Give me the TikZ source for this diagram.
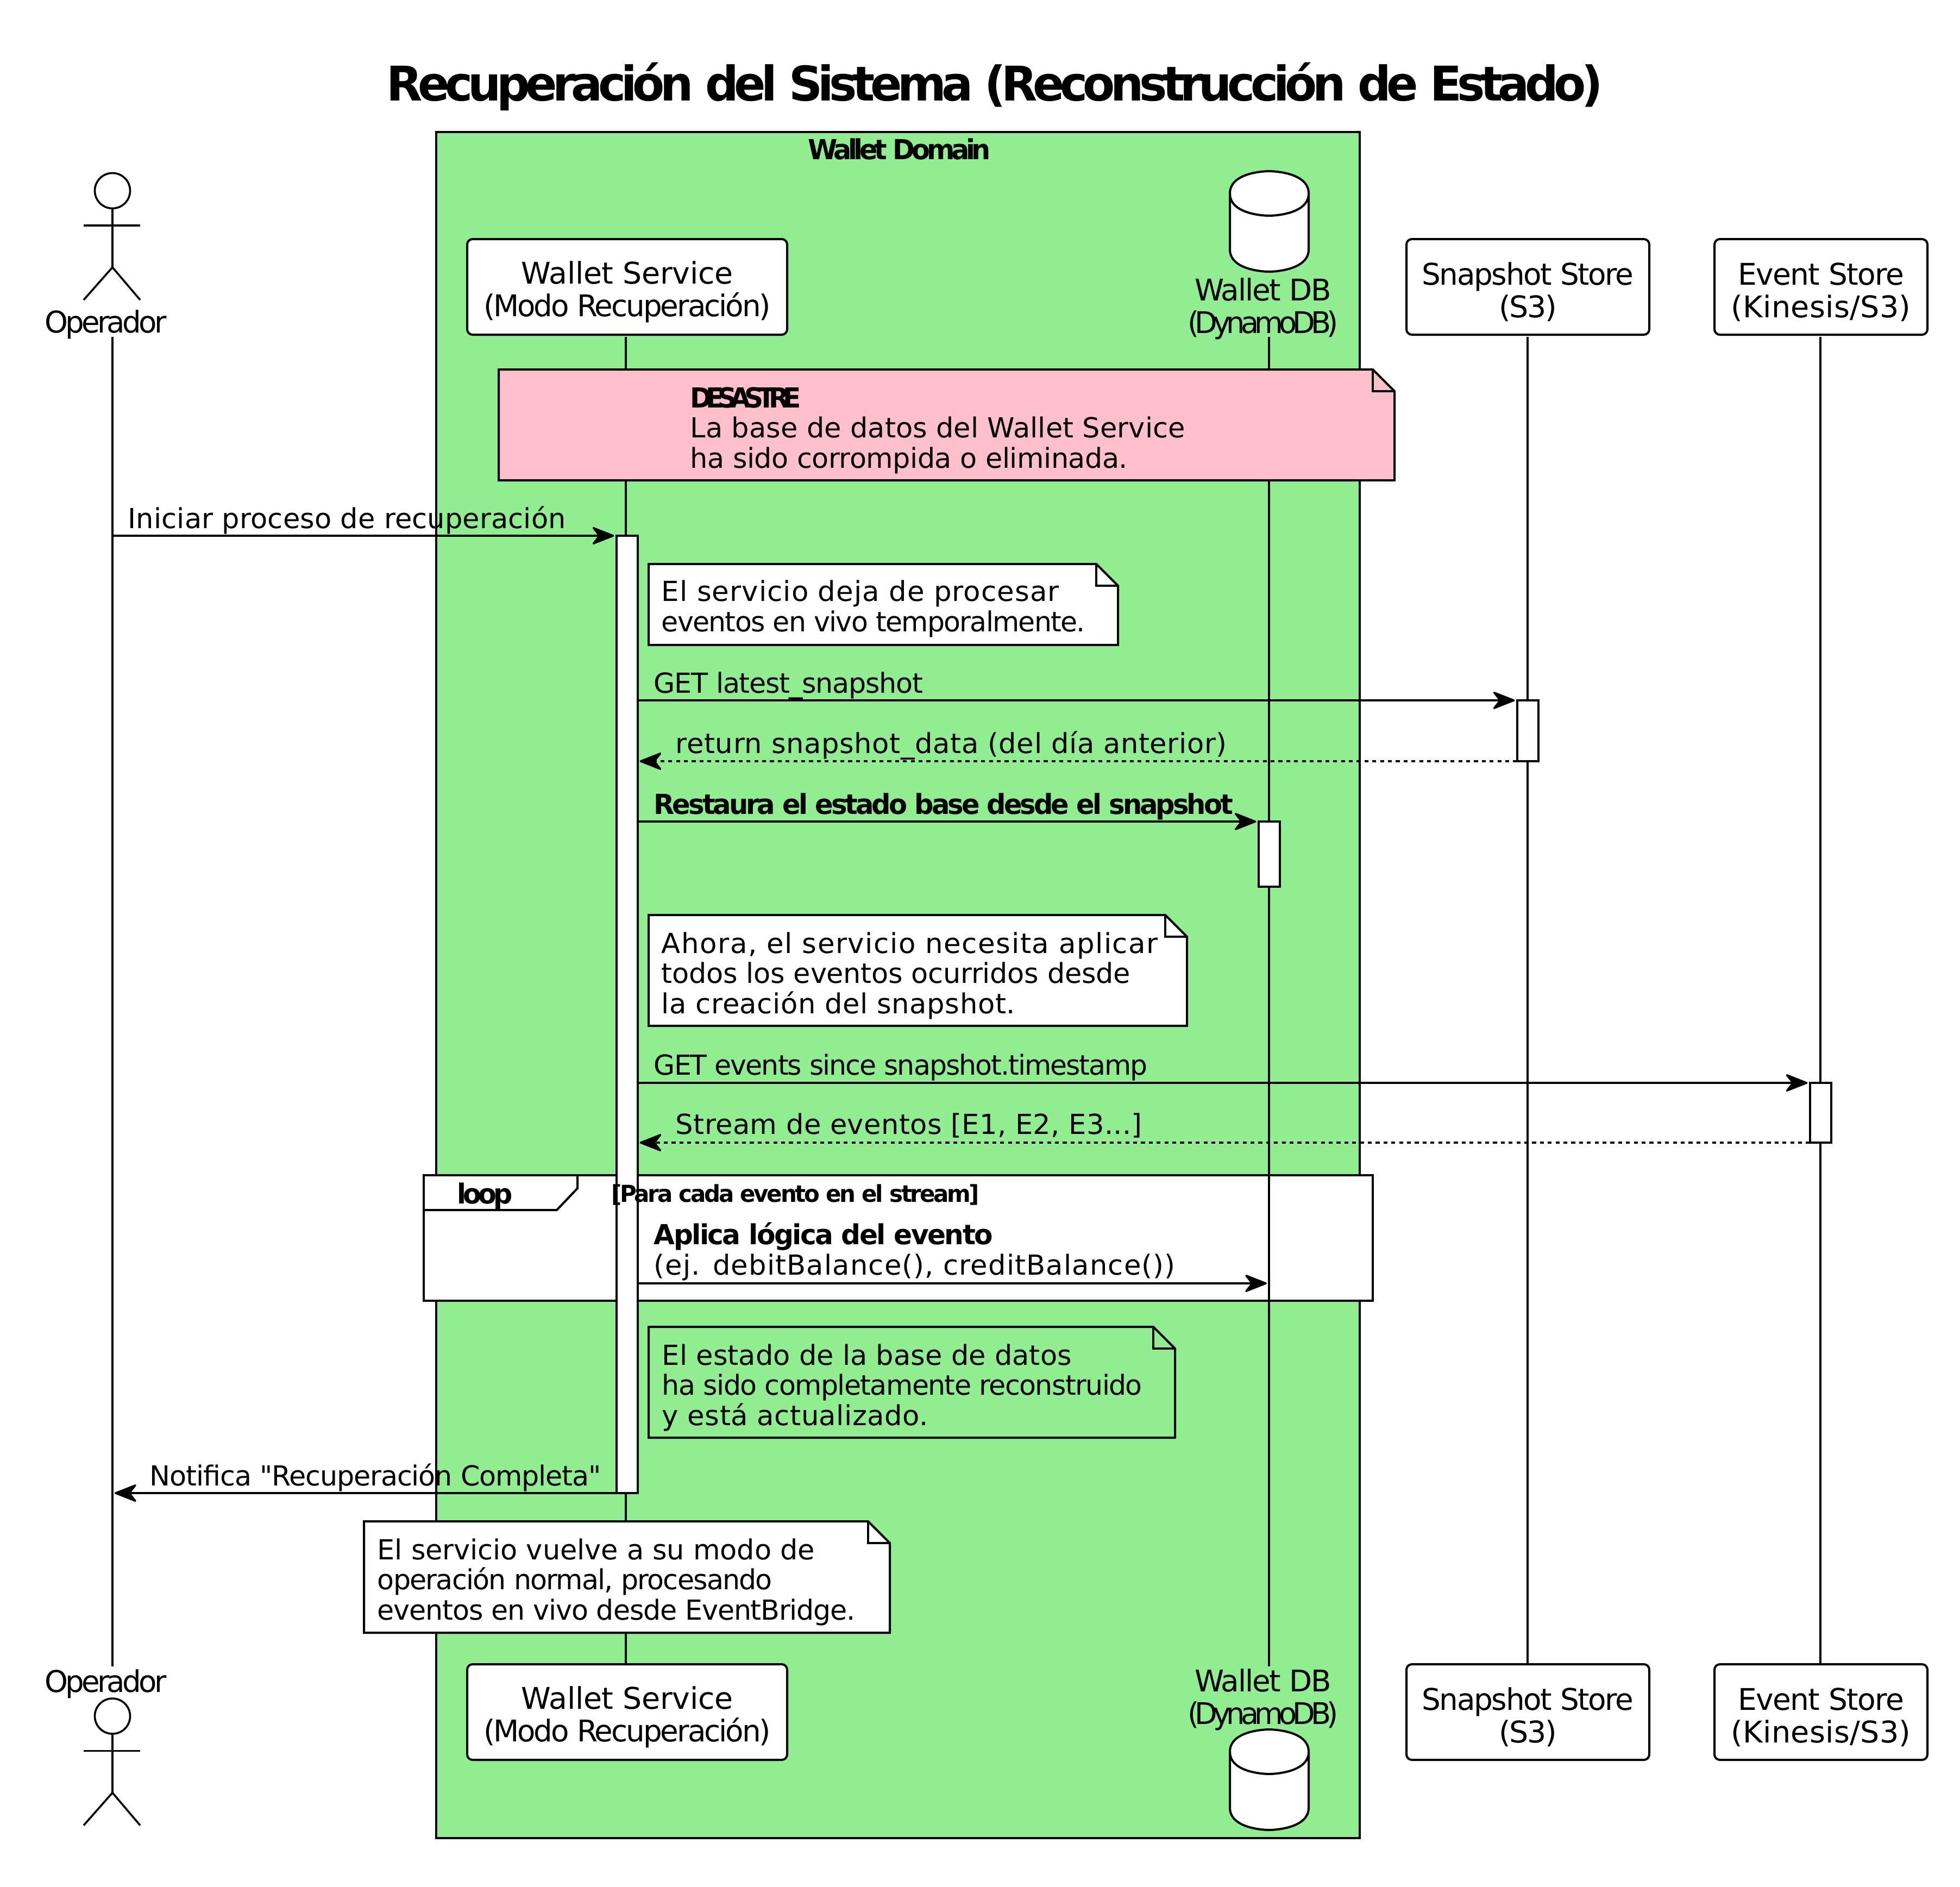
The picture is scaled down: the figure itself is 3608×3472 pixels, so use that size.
\documentclass[tikz,border=0pt]{standalone}
\usepackage{graphicx}
\usepackage{fontspec}
\setmainfont{DejaVu Sans}
\newfontfamily\plainquotes{DejaVu Sans}
\usetikzlibrary{arrows.meta}
\definecolor{domaingreen}{HTML}{90EE90}
\definecolor{disasterpink}{HTML}{FFC0CB}
\newlength\pxu
\setlength\pxu{.25pt}
% tighten the letters of a text to a given width, in reference pixels
\ExplSyntaxOn
\NewDocumentCommand{\fw}{mm}{
\hbox_set:Nn \l_tmpa_box {#2}
\tl_set:Nx \l_tmpa_tl {\fp_eval:n{round((#1*.25-\dim_to_fp:n{\box_wd:N \l_tmpa_box})/\str_count:n{#2}/\dim_to_fp:n{1em}*100,3)}}
\resizebox{\dimexpr#1\pxu+.75pt\relax}{\height}{\use:x{\exp_not:N\addfontfeature{LetterSpace=\l_tmpa_tl}}#2}
}
\ExplSyntaxOff
\newcommand{\fwb}[2]{{\bfseries\fw{#1}{#2}}}
% the two lines of a participant box
\newcommand{\plinea}[2]{\rule{0pt}{15pt}\fw{#1}{#2}}
\newcommand{\plineb}[2]{\rule[-2pt]{0pt}{1pt}\fw{#1}{#2}}
\newcommand{\actorfig}[1]{%
\draw[actorline](207,#1) circle[radius=32.5];
\draw[actorline](207,#1+32.5)--(207,#1+141);
\draw[actorline](154,#1+64)--(258,#1+64);
\draw[actorline](154,#1+201)--(207,#1+141)--(258,#1+201);
}
\newcommand{\dbfig}[1]{%
\draw[partline,fill=white](2264,#1+41) .. controls (2264,#1) and (2336,#1) .. (2336,#1) .. controls (2336,#1) and (2409,#1) .. (2409,#1+41)--(2409,#1+144) .. controls (2409,#1+185) and (2336,#1+185) .. (2336,#1+185) .. controls (2336,#1+185) and (2264,#1+185) .. (2264,#1+144)--cycle;
\draw[partline](2264,#1+41) .. controls (2264,#1+82) and (2336,#1+82) .. (2336,#1+82) .. controls (2336,#1+82) and (2409,#1+82) .. (2409,#1+41);
}
\newcommand{\notebg}[5]{%
\draw[partline,fill=#5](#1,#2)--(#3-40,#2)--(#3,#2+40)--(#3,#4)--(#1,#4)--cycle;
\draw[partline](#3-40,#2)--(#3-40,#2+40)--(#3,#2+40);
}
\tikzset{
partline/.style={line width=1pt},
actorline/.style={line width=.9pt},
lifeline/.style={line width=.85pt},
partbox/.style={draw,partline,fill=white,rounded corners=2.5pt,inner sep=0pt,outer sep=0pt,align=center,font=\fontsize{13.75}{15}\selectfont,minimum height=44pt},
partlabel/.style={inner sep=0pt,align=center,font=\fontsize{13.75}{15}\selectfont},
notetext/.style={inner sep=0pt,anchor=base west,align=left,font=\fontsize{12.7}{13.875}\selectfont},
actbar/.style={draw,partline,fill=white,inner sep=0pt,outer sep=0pt,minimum width=9.75pt},
msgarrow/.style={line width=.85pt,-{Stealth[length=11.5pt,width=9pt,inset=3.5pt,round]},shorten >=1pt},
retarrow/.style={msgarrow,dash pattern=on 1.8pt off 1.8pt},
}
\begin{document}
\begin{tikzpicture}[x=.25pt,y=-.25pt]
\fill[white](0,0) rectangle (3608,3472);
\useasboundingbox (0,0) rectangle (3608,3472);
\node[inner sep=0pt,anchor=base,font=\fontsize{22}{26}\selectfont\bfseries](title) at (1831,185) {\fw{2236}{Recuperación del Sistema (Reconstrucción de Estado)}};
\draw[partline,fill=domaingreen](803,243) rectangle (2503,3383);
\node[notetext,font=\fontsize{12.7}{14}\selectfont\bfseries](domainlabel) at (1487,293) {\fw{333}{Wallet Domain}};
% loop frame goes under the lifelines
\draw[partline,fill=white](780,2163) rectangle (2527,2394);
\draw[partline](780,2227)--(1025,2227)--(1063,2187)--(1063,2163);
% lifelines
\coordinate (opA) at (207,620);
\coordinate (opB) at (207,3067);
\coordinate (wsA) at (1152,620);
\coordinate (wsB) at (1152,3067);
\coordinate (dbA) at (2336,620);
\coordinate (dbB) at (2336,3067);
\coordinate (ssA) at (2812,620);
\coordinate (ssB) at (2812,3067);
\coordinate (esA) at (3351,620);
\coordinate (esB) at (3351,3067);
\draw[lifeline](opA)--(opB);
\draw[lifeline](wsA)--(wsB);
\draw[lifeline](dbA)--(dbB);
\draw[lifeline](ssA)--(ssB);
\draw[lifeline](esA)--(esB);
% head of each lifeline
\actorfig{351}
\node[partlabel,anchor=base](opTop) at (194.5,612) {\fw{221}{Operador}};
\node[partbox,minimum width=147.25pt](wsTop) at (1154.5,528) {\plinea{387}{Wallet Service}\\\plineb{526}{(Modo Recuperación)}};
\dbfig{315}
\node[partlabel,anchor=base](dbTop) at (2325,613) {\fw{248}{Wallet DB}\\\fw{274}{(DynamoDB)}};
\node[partbox,minimum width=111.75pt](ssTop) at (2812.5,528) {\plinea{387}{Snapshot Store}\\\plineb{104}{(S3)}};
\node[partbox,minimum width=98pt](esTop) at (3352,528) {\plinea{303}{Event Store}\\\plineb{328}{(Kinesis/S3)}};
% activations
\node[actbar,minimum height=440.5pt](barWs) at (1154,1867) {};
\node[actbar,minimum height=28pt](barSs) at (2812,1345) {};
\node[actbar,minimum height=30pt](barDb) at (2336,1572) {};
\node[actbar,minimum height=27.5pt](barEs) at (3351,2048) {};
% notes
\notebg{918}{680}{2567}{884}{disasterpink}
\node[notetext](noteA) at (1270,861) {\fwb{201}{DESASTRE}\\\fw{908}{La base de datos del Wallet Service}\\\fw{802}{ha sido corrompida o eliminada.}};
\notebg{1194}{1038}{2058}{1187}{white}
\node[notetext](noteB) at (1217,1162) {\fw{729}{El servicio deja de procesar}\\\fw{777}{eventos en vivo temporalmente.}};
\notebg{1194}{1684}{2185}{1888}{white}
\node[notetext](noteC) at (1217,1865) {\fw{911}{Ahora, el servicio necesita aplicar}\\\fw{860}{todos los eventos ocurridos desde}\\\fw{648}{la creación del snapshot.}};
\notebg{1194}{2442}{2163}{2646}{domaingreen}
\node[notetext](noteD) at (1218,2623) {\fw{751}{El estado de la base de datos}\\\fw{881}{ha sido completamente reconstruido}\\\fw{487}{y está actualizado.}};
\notebg{670}{2800}{1638}{3005}{white}
\node[notetext](noteE) at (694,2981) {\fw{802}{El servicio vuelve a su modo de}\\\fw{724}{operación normal, procesando}\\\fw{877}{eventos en vivo desde EventBridge.}};
% messages
\coordinate (loopArrow) at (1174,2362);
\draw[msgarrow](opA |- barWs.north west)--(barWs.north west);
\draw[msgarrow](barWs.east |- barSs.north west)--(barSs.north west);
\draw[retarrow](barSs.south west)--(barWs.east |- barSs.south west);
\draw[msgarrow](barWs.east |- barDb.north west)--(barDb.north west);
\draw[msgarrow](barWs.east |- barEs.north west)--(barEs.north west);
\draw[retarrow](barEs.south west)--(barWs.east |- barEs.south west);
\draw[msgarrow](loopArrow)--(dbA |- loopArrow);
\draw[msgarrow](barWs.south west)--(opA |- barWs.south west);
\node[notetext](msgA) at (235,972) {\fw{803}{Iniciar proceso de recuperación}};
\node[notetext](msgB) at (1203,1275) {\fw{492}{GET latest\_snapshot}};
\node[notetext](msgC) at (1243,1386) {\fw{1012}{return snapshot\_data (del día anterior)}};
\node[notetext](msgD) at (1203,1498) {\fwb{1063}{Restaura el estado base desde el snapshot}};
\node[notetext](msgE) at (1203,1978) {\fw{906}{GET events since snapshot.timestamp}};
\node[notetext](msgF) at (1243,2087) {\fw{856}{Stream de eventos [E1, E2, E3...]}};
\node[notetext](loopKey) at (841,2215) {\fwb{99}{loop}};
\node[notetext,font=\fontsize{10.75}{12}\selectfont\bfseries](loopCond) at (1125,2212) {\fw{674}{[Para cada evento en el stream]}};
\node[notetext](msgG) at (1203,2346) {\fwb{621}{Aplica lógica del evento}\\\fw{957}{(ej. debitBalance(), creditBalance())}};
\node[notetext,font=\fontsize{12.7}{13.875}\plainquotes](msgH) at (275,2734) {\fw{828}{Notifica "Recuperación Completa"}};
% foot of each lifeline
\node[partlabel,anchor=base](opBot) at (194.5,3114) {\fw{221}{Operador}};
\actorfig{3158.5}
\node[partbox,minimum width=147.25pt](wsBot) at (1154.5,3151) {\plinea{387}{Wallet Service}\\\plineb{526}{(Modo Recuperación)}};
\node[partlabel,anchor=base](dbBot) at (2325,3173) {\fw{248}{Wallet DB}\\\fw{274}{(DynamoDB)}};
\dbfig{3183}
\node[partbox,minimum width=111.75pt](ssBot) at (2812.5,3151) {\plinea{387}{Snapshot Store}\\\plineb{104}{(S3)}};
\node[partbox,minimum width=98pt](esBot) at (3352,3151) {\plinea{303}{Event Store}\\\plineb{328}{(Kinesis/S3)}};
\end{tikzpicture}
\end{document}
